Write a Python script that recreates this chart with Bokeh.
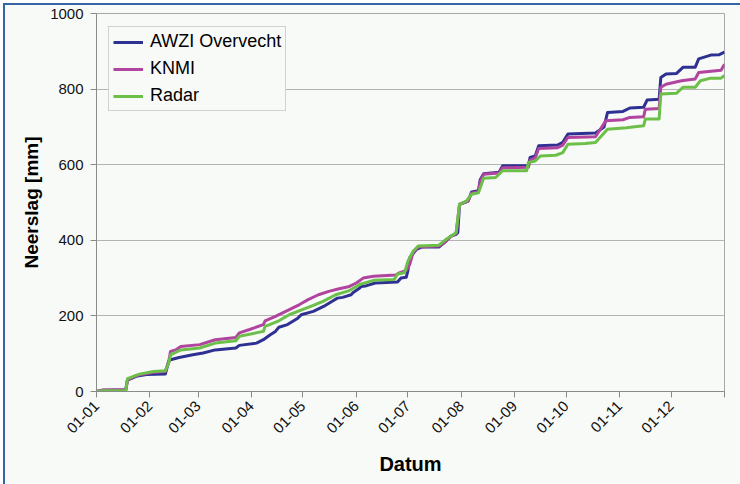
import pandas as pd
from bokeh.plotting import figure
from bokeh.models import FixedTicker, Legend, LegendItem, Range1d, ColumnDataSource
from bokeh.embed import file_html
from bokeh.resources import INLINE

year_start = "2007-01-01"

# Cumulative precipitation [mm], read at day offsets from 1 January
awzi_day = [0, 3, 17, 18, 23, 29, 40, 42, 43, 48, 56, 62, 69, 81, 83, 93, 97, 101, 104, 106,
            111, 117, 119, 126, 132, 137, 140, 143, 148, 149, 153, 154, 157, 162, 175, 177,
            180, 181, 182, 184, 186, 189, 199, 202, 206, 209, 210, 211, 216, 218, 222, 223,
            225, 234, 236, 251, 252, 255, 257, 268, 271, 274, 290, 295, 297, 306, 310, 318,
            320, 327, 328, 331, 337, 341, 348, 350, 357, 362, 365]
awzi_mm = [0, 3, 3, 30, 40, 45, 46, 80, 84, 90, 97, 102, 110, 115, 122, 128, 137, 150, 159, 170,
           177, 194, 203, 212, 225, 239, 247, 249, 256, 261, 274, 278, 280, 287, 290, 300,
           302, 320, 354, 365, 376, 382, 382, 393, 411, 416, 420, 495, 504, 528, 531, 560,
           576, 580, 597, 598, 619, 623, 650, 652, 659, 681, 684, 700, 738, 741, 750, 752,
           771, 773, 831, 840, 841, 858, 858, 880, 890, 891, 898]

knmi_day = [0, 4, 17, 18, 23, 33, 40, 42, 43, 46, 49, 60, 69, 81, 83, 89, 97, 98, 104, 110,
            118, 123, 129, 135, 141, 147, 151, 155, 161, 174, 176, 180, 182, 184, 187, 199,
            202, 206, 209, 211, 216, 218, 222, 223, 225, 234, 236, 251, 252, 255, 257, 268,
            271, 274, 290, 296, 306, 310, 318, 319, 327, 328, 331, 340, 348, 350, 363, 365]
knmi_mm = [0, 4, 5, 31, 42, 51, 53, 80, 106, 110, 119, 124, 137, 143, 155, 164, 177, 187, 199, 212,
           230, 243, 256, 265, 272, 278, 287, 300, 305, 308, 314, 320, 336, 367, 382, 385,
           393, 410, 418, 495, 504, 525, 528, 555, 575, 578, 592, 593, 612, 618, 643, 645,
           652, 672, 674, 716, 719, 725, 727, 747, 749, 805, 813, 822, 827, 844, 850, 866]

radar_day = [0, 4, 17, 18, 25, 33, 40, 42, 43, 49, 60, 69, 81, 83, 97, 98, 106, 112, 120, 126,
             132, 139, 147, 153, 161, 173, 175, 179, 181, 184, 187, 199, 203, 206, 209, 211,
             215, 218, 222, 225, 232, 236, 250, 251, 255, 258, 267, 271, 274, 284, 290, 297,
             308, 318, 319, 327, 328, 337, 341, 348, 351, 357, 363, 365]
radar_mm = [0, 2, 2, 34, 46, 53, 55, 75, 97, 110, 115, 128, 134, 146, 159, 172, 187, 203, 217, 228,
            239, 256, 267, 283, 294, 296, 311, 314, 345, 371, 385, 387, 402, 411, 420, 495,
            504, 522, 526, 564, 566, 584, 584, 606, 610, 623, 625, 632, 654, 656, 659, 694,
            698, 703, 721, 721, 787, 789, 805, 805, 822, 829, 829, 836]

series_names = ["AWZI Overvecht", "KNMI", "Radar"]
series_colors = ["#2e3192", "#b0449e", "#6cc04a"]

month_starts = ["2007-01-01", "2007-02-01", "2007-03-01", "2007-04-01", "2007-05-01",
                "2007-06-01", "2007-07-01", "2007-08-01", "2007-09-01", "2007-10-01",
                "2007-11-01", "2007-12-01", "2008-01-01"]
month_labels = ["01-01", "01-02", "01-03", "01-04", "01-05", "01-06", "01-07", "01-08",
                "01-09", "01-10", "01-11", "01-12", ""]
y_ticks = [0, 200, 400, 600, 800, 1000]

FONT = "Liberation Sans"
BG = "#f8faf8"

t0 = pd.Timestamp(year_start)


def to_dt(days):
    return [t0 + pd.Timedelta(days=d) for d in days]


tick_ms = [float(pd.Timestamp(m).value // 10**6) for m in month_starts]

p = figure(width=740, height=484, x_axis_type="datetime", output_backend="svg",
           toolbar_location=None,
           x_range=Range1d(tick_ms[0], tick_ms[-1]), y_range=Range1d(0, 1000),
           min_border_left=96, min_border_right=16, min_border_top=13, min_border_bottom=93,
           background_fill_color=BG, border_fill_color=None,
           styles={"background-color": BG,
                   "box-shadow": "inset 3px 3px 0 0 #ffffff, inset 5px 5px 0 0 #3565a5"})

renderers = []
for days, vals, color in [(awzi_day, awzi_mm, series_colors[0]),
                          (knmi_day, knmi_mm, series_colors[1]),
                          (radar_day, radar_mm, series_colors[2])]:
    src = ColumnDataSource(dict(x=to_dt(days), y=vals))
    r = p.line("x", "y", source=src, line_color=color, line_width=3, line_join="round")
    renderers.append(r)

# axes
p.xaxis.ticker = FixedTicker(ticks=tick_ms)
p.xaxis.major_label_overrides = {t: lab for t, lab in zip(tick_ms, month_labels)}
p.xaxis.major_label_orientation = 0.785398
p.yaxis.ticker = FixedTicker(ticks=y_ticks)
p.xaxis.minor_tick_line_color = None
p.yaxis.minor_tick_line_color = None

for ax in (p.xaxis, p.yaxis):
    ax.axis_line_color = "#8a8a8a"
    ax.major_tick_line_color = "#8a8a8a"
    ax.major_tick_in = 0
    ax.major_tick_out = 6
    ax.major_label_text_font = FONT
    ax.major_label_text_font_size = "15px"
    ax.major_label_text_color = "#111111"
    ax.axis_label_text_font = FONT
    ax.axis_label_text_font_style = "bold"
    ax.axis_label_text_color = "#000000"

p.yaxis.axis_label = "Neerslag [mm]"
p.yaxis.axis_label_text_font_size = "19px"
p.yaxis.major_label_standoff = 7
p.yaxis.axis_label_standoff = 5
p.xaxis.axis_label = "Datum"
p.xaxis.axis_label_text_font_size = "20px"
p.xaxis.major_label_standoff = 6
p.xaxis.axis_label_standoff = 12

p.xgrid.grid_line_color = None
p.ygrid.grid_line_color = "#b4b4b4"
p.ygrid.grid_line_width = 1
p.outline_line_color = "#a8a8a8"

legend = Legend(items=[LegendItem(label=n, renderers=[r]) for n, r in zip(series_names, renderers)],
                location=(12, 280))
legend.label_text_font = FONT
legend.label_text_font_size = "18px"
legend.label_text_color = "#000000"
legend.border_line_color = "#a8a8a8"
legend.background_fill_color = BG
legend.background_fill_alpha = 1
legend.glyph_width = 30
legend.glyph_height = 20
legend.label_height = 20
legend.spacing = 6
legend.padding = 4
legend.label_standoff = 7
legend.margin = 0
p.add_layout(legend)

open("out.html", "w").write(file_html(p, INLINE))
